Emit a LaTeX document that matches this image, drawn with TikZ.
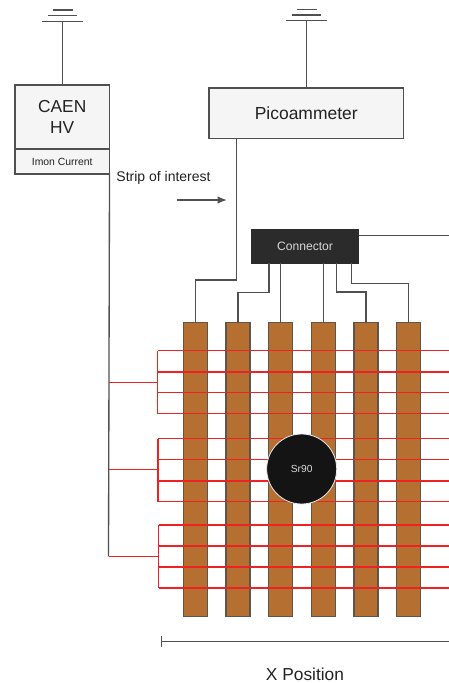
\documentclass[tikz,border=0pt]{standalone}
\usepackage{xcolor}
\usepackage{fontspec}
\setmainfont{Liberation Sans}
\usepackage{tikz}
\usetikzlibrary{
    arrows.meta,
    positioning
}

\definecolor{panelfill}{HTML}{F5F5F5}
\definecolor{linegray}{HTML}{505050}
\definecolor{copper}{HTML}{B46F31}
\definecolor{copperedge}{HTML}{5F5548}
\definecolor{wirered}{HTML}{EE2222}
\definecolor{darkbox}{HTML}{2B2B2B}
\definecolor{inktext}{HTML}{222222}

\begin{document}
\begin{tikzpicture}[
x=0.75pt,
y=-0.75pt,
panel/.style={
draw=linegray,
fill=panelfill,
line width=1pt,
outer sep=0pt,
inner sep=0pt,
text=inktext,
align=center
},
strip/.style={
draw=copperedge,
fill=copper,
line width=1pt,
outer sep=0pt,
minimum width=18pt,
minimum height=220.5pt,
inner sep=0pt
},
lead/.style={
draw=linegray,
line width=1pt
},
wire/.style={
draw=wirered,
line width=1.1pt
},
label/.style={
text=inktext,
inner sep=0pt
}
]

\useasboundingbox (0,0) rectangle (449,683);

\node[panel, minimum width=70.9pt, minimum height=48pt,
font=\fontsize{13}{15.5}\selectfont] (caen) at (62.25,117)
{CAEN\\HV};

\node[panel, minimum width=70.9pt, minimum height=18.8pt,
font=\fontsize{7.8}{9}\selectfont,
below=0pt of caen] (imon)
{Imon Current};

\node[panel, minimum width=145.9pt, minimum height=37.9pt,
font=\fontsize{13.1}{15}\selectfont] (pico) at (306.25,113.25)
{\raisebox{-0.6pt}{Picoammeter}};

\node[panel, fill=darkbox, draw=darkbox, text=white!85!black,
minimum width=80.5pt, minimum height=25pt,
font=\fontsize{9.1}{11}\selectfont] (conn) at (305,246.6)
{\raisebox{-0.6pt}{Connector}};

\node[label, font=\fontsize{10.5}{12}\selectfont] (interest) at (163.5,177.5)
{Strip of interest};

\node[label, font=\fontsize{13}{15}\selectfont] (xpos) at (305,674)
{X Position};

% strips
\node[strip] (strip1) at (195.5,469.7) {};
\node[strip, right=13.95pt of strip1] (strip2) {};
\node[strip, right=13.95pt of strip2] (strip3) {};
\node[strip, right=13.95pt of strip3] (strip4) {};
\node[strip, right=13.95pt of strip4] (strip5) {};
\node[strip, right=13.95pt of strip5] (strip6) {};

% free ends
\coordinate (rim) at (449,0);
\coordinate (gndcaen) at (62.5,21.5);
\coordinate (gndpico) at (306.5,20.5);
\coordinate (picoout) at (236.5,138.5);
\coordinate (connout) at (358.7,235.7);
\coordinate (pin2) at (269,263.3);
\coordinate (pin5) at (336.7,263.3);
\coordinate (pin6) at (351.7,263.3);
\coordinate (arrowfrom) at (177,200);
\coordinate (arrowto) at (227,200);
\coordinate (scalefrom) at (161,641.3);

% ground symbols
\draw[lead] (gndcaen) -- (caen.north -| gndcaen);
\draw[lead] ([shift={(-20.5,0)}]gndcaen) -- ([shift={(20.5,0)}]gndcaen);
\draw[lead] ([shift={(-14.5,-6)}]gndcaen) -- ([shift={(14.5,-6)}]gndcaen);
\draw[lead] ([shift={(-10,-11.5)}]gndcaen) -- ([shift={(10,-11.5)}]gndcaen);

\draw[lead] (gndpico) -- (pico.north -| gndpico);
\draw[lead] ([shift={(-20.5,0)}]gndpico) -- ([shift={(20.5,0)}]gndpico);
\draw[lead] ([shift={(-14.5,-5.5)}]gndpico) -- ([shift={(14.5,-5.5)}]gndpico);
\draw[lead] ([shift={(-10,-11)}]gndpico) -- ([shift={(10,-11)}]gndpico);

% leads to strips
\draw[lead] (picoout) -- ++(0,141.5) -| (strip1.north);
\draw[lead] (pin2) -- ++(0,29.4) -| (strip2.north);
\draw[lead] (conn.south -| strip3.north) -- (strip3.north);
\draw[lead] (conn.south -| strip4.north) -- (strip4.north);
\draw[lead] (pin5) -- ++(0,28.7) -| (strip5.north);
\draw[lead] (pin6) -- ++(0,20) -| (strip6.north);
\draw[lead] (connout) -- (connout -| rim);

\draw[-{Latex[length=7pt,width=5.5pt]}, lead] (arrowfrom) -- (arrowto);

% red wires
\coordinate (wire1) at (157.7,350.7);
\coordinate (wire2) at (157.7,372);
\coordinate (wire3) at (157.7,392.7);
\coordinate (wire4) at (157.7,413.7);
\coordinate (wire5) at (158,438.7);
\coordinate (wire6) at (158,459.7);
\coordinate (wire7) at (158,481);
\coordinate (wire8) at (158,501.7);
\coordinate (wire9) at (158.7,525);
\coordinate (wire10) at (158.7,546);
\coordinate (wire11) at (158.7,567);
\coordinate (wire12) at (158.7,588);
\coordinate (tap1) at (109,382.7);
\coordinate (tap2) at (109,469.7);
\coordinate (tap3) at (108.5,556.3);

\draw[wire] (wire1) -- (wire1 -| rim);
\draw[wire] (wire2) -- (wire2 -| rim);
\draw[wire] (wire3) -- (wire3 -| rim);
\draw[wire] (wire4) -- (wire4 -| rim);
\draw[wire] (wire5) -- (wire5 -| rim);
\draw[wire] (wire6) -- (wire6 -| rim);
\draw[wire] (wire7) -- (wire7 -| rim);
\draw[wire] (wire8) -- (wire8 -| rim);
\draw[wire] (wire9) -- (wire9 -| rim);
\draw[wire] (wire10) -- (wire10 -| rim);
\draw[wire] (wire11) -- (wire11 -| rim);
\draw[wire] (wire12) -- (wire12 -| rim);

\draw[wire] (wire1) -- (wire4);
\draw[wire] (wire5) -- (wire8);
\draw[wire] (wire9) -- (wire12);

\draw[lead] (imon.south east) -- (tap3);
\draw[wire] (tap1) -- (tap1 -| wire1);
\draw[wire] (tap2) -- (tap2 -| wire5);
\draw[wire] (tap3) -- (tap3 -| wire9);

% source
\node[circle, draw=white!92!black, fill=black!92, line width=0.6pt,
minimum size=52.5pt, inner sep=0pt, text=white!85!black,
font=\fontsize{7.7}{9}\selectfont] (source) at (301.7,469)
{Sr90};

% scale
\draw[lead, {Bar[width=8.5pt]}-] (scalefrom) -- (scalefrom -| rim);

\end{tikzpicture}
\end{document}
